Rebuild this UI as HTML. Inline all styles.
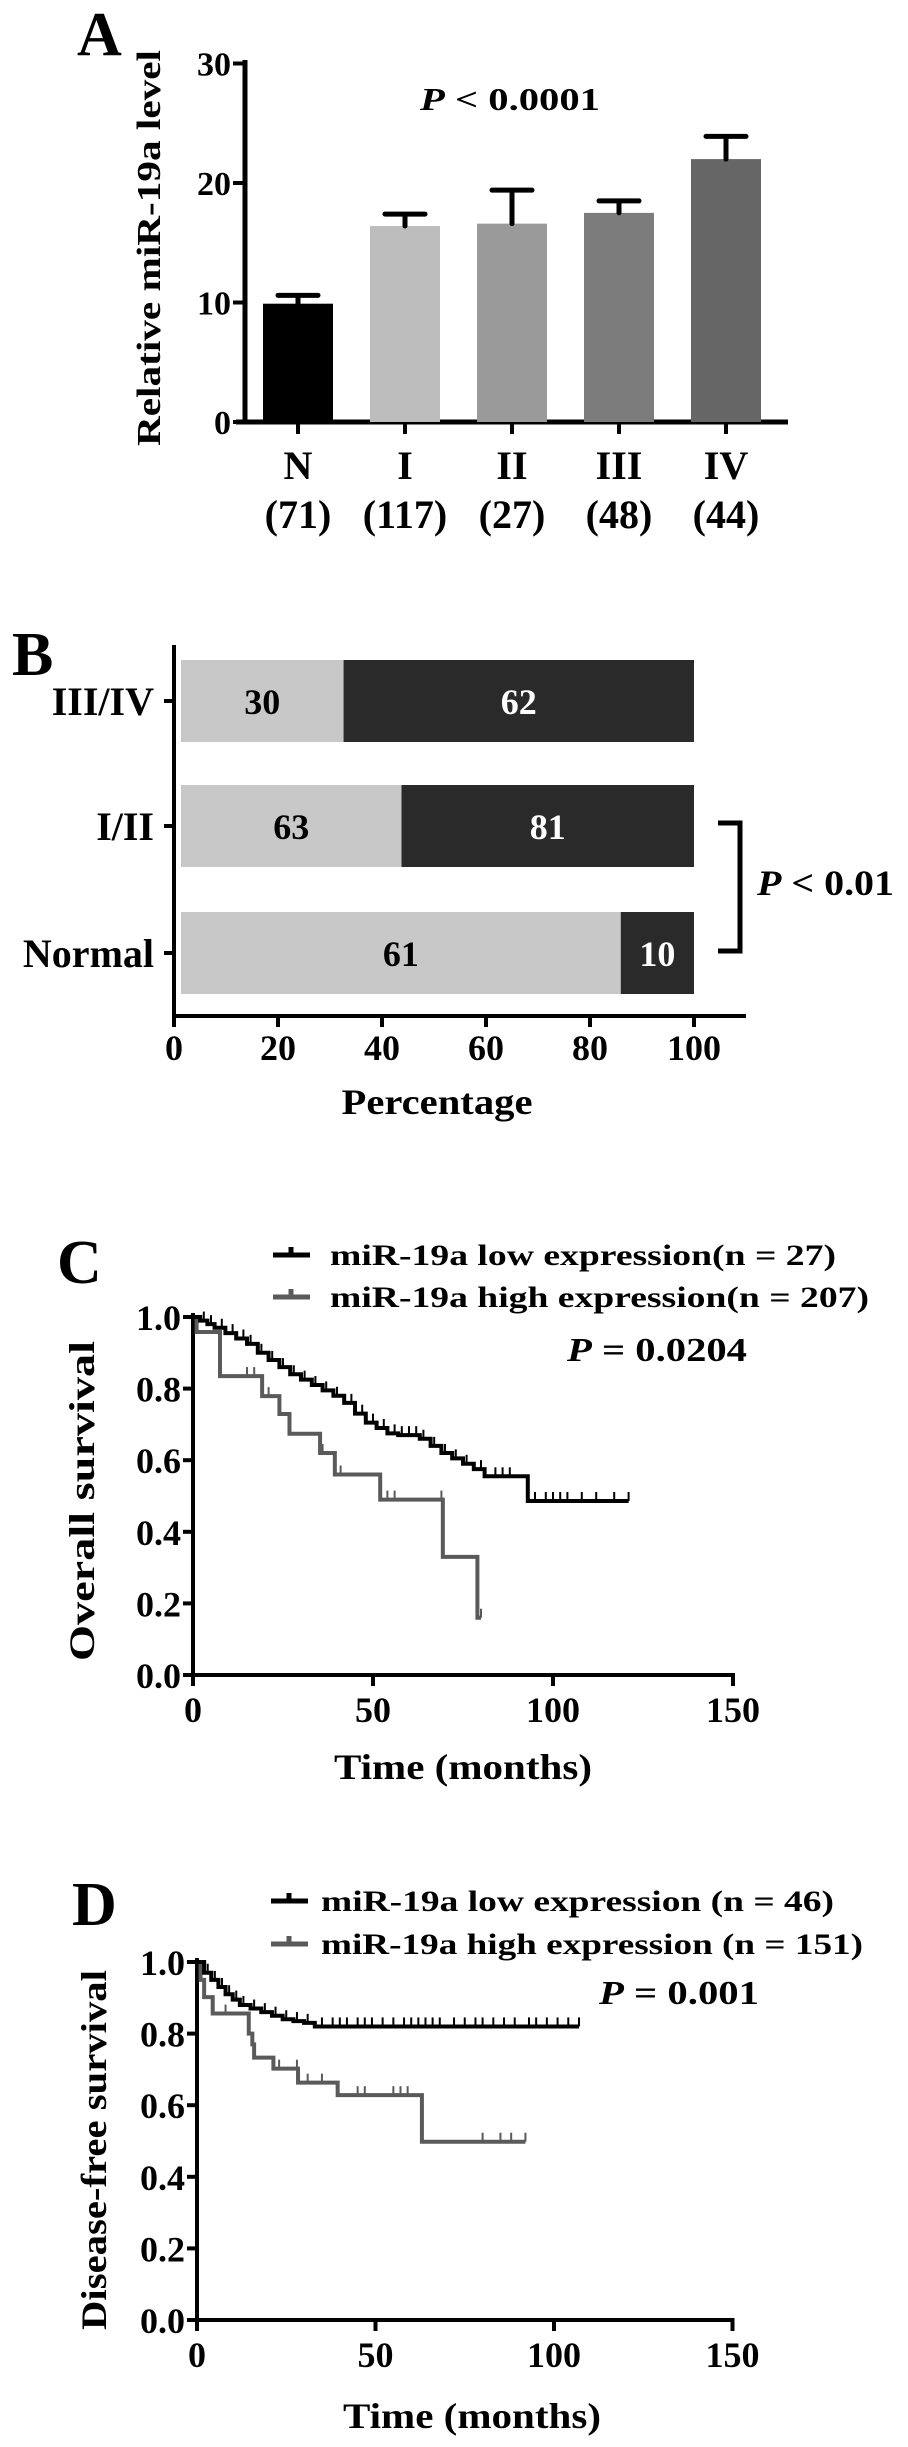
<!DOCTYPE html>
<html><head><meta charset="utf-8"><style>
html,body{margin:0;padding:0;background:#fff}
svg{display:block}
text{font-family:"Liberation Serif",serif;font-weight:bold;fill:#000}
</style></head><body>
<svg id="fig" width="908" height="2447" viewBox="0 0 908 2447">
<text x="77" y="55" font-size="62">A</text>
<text x="102" y="252" font-size="34" text-anchor="middle" transform="rotate(-90 160 248)" textLength="396" lengthAdjust="spacingAndGlyphs" dx="58" dy="-4">Relative miR-19a level</text>
<text x="510" y="110" font-size="32" text-anchor="middle" textLength="180" lengthAdjust="spacingAndGlyphs"><tspan font-style="italic">P</tspan> &lt; 0.0001</text>

<text x="12" y="675" font-size="62">B</text>
<text x="437" y="1114" font-size="36" text-anchor="middle" textLength="191" lengthAdjust="spacingAndGlyphs">Percentage</text>
<text x="757" y="895" font-size="36" textLength="137" lengthAdjust="spacingAndGlyphs"><tspan font-style="italic">P</tspan> &lt; 0.01</text>
<path d="M718 823 H740 V951 H718" fill="none" stroke="#000" stroke-width="5"/>

<text x="57" y="1283" font-size="62">C</text>
<text x="463" y="1779" font-size="36" text-anchor="middle" textLength="258" lengthAdjust="spacingAndGlyphs">Time (months)</text>
<text x="0" y="0" font-size="36" text-anchor="middle" transform="translate(94 1501) rotate(-90)" textLength="320" lengthAdjust="spacingAndGlyphs">Overall survival</text>
<text x="567" y="1361" font-size="34" textLength="180" lengthAdjust="spacingAndGlyphs"><tspan font-style="italic">P</tspan> = 0.0204</text>

<text x="72" y="1925" font-size="62">D</text>
<text x="472" y="2428" font-size="36" text-anchor="middle" textLength="258" lengthAdjust="spacingAndGlyphs">Time (months)</text>
<text x="0" y="0" font-size="36" text-anchor="middle" transform="translate(106 2150) rotate(-90)" textLength="360" lengthAdjust="spacingAndGlyphs">Disease-free survival</text>
<text x="599" y="2004" font-size="34" textLength="160" lengthAdjust="spacingAndGlyphs"><tspan font-style="italic">P</tspan> = 0.001</text>
</svg>
<script>
// ---- Panel A data ----
const aCategories = ["N","I","II","III","IV"];
const aCounts = ["(71)","(117)","(27)","(48)","(44)"];
const aValues = [9.9, 16.4, 16.6, 17.5, 22.0];
const aErrors = [0.7, 1.0, 2.8, 1.0, 1.9];
const aTicks = [0, 10, 20, 30];
// ---- Panel B data ----
const bCategories = ["III/IV","I/II","Normal"];
const bLow = [30, 63, 61];
const bHigh = [62, 81, 10];
const bTicks = [0, 20, 40, 60, 80, 100];
// ---- Panel C data ----
const cLowTimes = [0,2,4,6,9,12,15,18,21,24,27,30,33,36,39,42,45,48,51,54,57,63,66,69,72,75,78,81,93];
const cLowSurv = [1.0,0.99,0.98,0.97,0.955,0.94,0.925,0.9,0.88,0.86,0.84,0.825,0.81,0.795,0.78,0.76,0.73,0.705,0.69,0.675,0.67,0.66,0.64,0.62,0.605,0.59,0.575,0.555,0.486];
const cLowEnd = 121;
const cLowCensor = [3,5,8,11,14,16,19,22,25,28,31,34,37,40,44,47,50,53,56,58,60,62,64,67,70,73,76,80,84,86,88,95,98,100,102,104,108,112,117,121];
const cHighTimes = [0,1,7.5,19.2,24,26.8,35.3,39.4,52,69.4,79];
const cHighSurv = [1.0,0.958,0.835,0.779,0.729,0.674,0.62,0.56,0.49,0.33,0.16];
const cHighEnd = 80;
const cHighCensor = [15,17,21,36,41,54,56,69,79,80];
// ---- Panel D data ----
const dLowTimes = [0,2,4,6,8,10,12,15,18,21,24,27,30,33];
const dLowSurv = [1.0,0.97,0.95,0.93,0.91,0.895,0.88,0.87,0.86,0.85,0.84,0.835,0.83,0.82];
const dLowEnd = 107;
const dLowCensor = [3,5,7,9,11,13,16,19,22,25,28,31,35,38,40,42,45,47,49,52,55,58,60,62,64,66,68,72,75,78,80,83,86,89,93,95,98,101,104,107];
const dHighTimes = [0,1,2,4.4,14.5,15.5,16,21.4,28.3,39.4,63];
const dHighSurv = [1.0,0.95,0.902,0.856,0.8,0.77,0.733,0.702,0.663,0.628,0.498];
const dHighEnd = 92;
const dHighCensor = [8,23,28,31,35,45,47,55,57,59,80,85,88,92];
const kmTicksX = [0, 50, 100, 150];
const kmTicksY = [0.0, 0.2, 0.4, 0.6, 0.8, 1.0];

const svg = document.getElementById('fig');
const NS = 'http://www.w3.org/2000/svg';
function mk(tag, attrs, txt) {
  const e = document.createElementNS(NS, tag);
  for (const k in attrs) e.setAttribute(k, attrs[k]);
  if (txt !== undefined) e.textContent = txt;
  svg.appendChild(e);
  return e;
}
let el;

// ===== Panel A =====
const aY = v => 422 - v * 11.95;
const aX = i => 298 + i * 107;
const aColors = ["#000000","#bdbdbd","#9a9a9a","#7c7c7c","#666666"];
el = mk('line', {x1:245, y1:60, x2:245, y2:424, stroke:'#000', 'stroke-width':5});


el = mk('line', {x1:236, y1:422, x2:788, y2:422, stroke:'#000', 'stroke-width':5});


aTicks.forEach(t => {
  el = mk('line', {x1:233, y1:aY(t), x2:245, y2:aY(t), stroke:'#000', 'stroke-width':4});
  
  
  el = mk('text', {x:231, y:aY(t)+12, 'font-size':34, 'text-anchor':'end'}, String(t));
  
  
});
aCategories.forEach((c, i) => {
  const cx = aX(i);
  el = mk('rect', {x:cx-35, y:aY(aValues[i]), width:70, height:aY(0)-aY(aValues[i]), fill:aColors[i]});
  
  
  el = mk('path', {d:`M${cx} ${aY(aValues[i])} V${aY(aValues[i]+aErrors[i])} M${cx-20} ${aY(aValues[i]+aErrors[i])} H${cx+20}`, stroke:'#000', 'stroke-width':5, fill:'none', 'stroke-linecap':'round'});
  
  
  el = mk('line', {x1:cx, y1:422, x2:cx, y2:434, stroke:'#000', 'stroke-width':4});
  
  
  el = mk('text', {x:cx, y:479, 'font-size':40, 'text-anchor':'middle'}, c);
  
  
  el = mk('text', {x:cx, y:528, 'font-size':40, 'text-anchor':'middle'}, aCounts[i]);
  
  
});

// ===== Panel B =====
const bX = p => 174 + p * 5.2;
const bYc = [701, 826, 953];
el = mk('line', {x1:174, y1:645, x2:174, y2:1018, stroke:'#000', 'stroke-width':4});


el = mk('line', {x1:174, y1:1016, x2:746, y2:1016, stroke:'#000', 'stroke-width':4});


bTicks.forEach(t => {
  el = mk('line', {x1:bX(t), y1:1016, x2:bX(t), y2:1027, stroke:'#000', 'stroke-width':4});
  
  
  el = mk('text', {x:bX(t), y:1060, 'font-size':36, 'text-anchor':'middle'}, String(t));
  
  
});
bCategories.forEach((c, i) => {
  const yc = bYc[i];
  const frac = bLow[i] / (bLow[i] + bHigh[i]) * 100;
  el = mk('rect', {x:181, y:yc-41, width:bX(frac)-181, height:82, fill:'#c8c8c8'});
  
  
  el = mk('rect', {x:bX(frac), y:yc-41, width:bX(100)-bX(frac), height:82, fill:'#2a2a2a'});
  
  
  el = mk('text', {x:(181+bX(frac))/2, y:yc+13, 'font-size':36, 'text-anchor':'middle'}, String(bLow[i]));
  
  
  el = mk('text', {x:(bX(frac)+bX(100))/2, y:yc+13, 'font-size':36, 'text-anchor':'middle', fill:'#fff', style:'fill:#fff'}, String(bHigh[i]));
  
  
  el = mk('line', {x1:164, y1:yc, x2:174, y2:yc, stroke:'#000', 'stroke-width':4});
  
  
  el = mk('text', {x:154, y:yc+14, 'font-size':40, 'text-anchor':'end'}, c);
  
  
});

// ===== KM panels =====
function stepVal(times, surv, t) {
  let v = surv[0];
  for (let i = 0; i < times.length; i++) if (times[i] <= t) v = surv[i];
  return v;
}
function kmPanel(p, ax, lowT, lowS, lowEnd, lowC, highT, highS, highEnd, highC, legLow, legHigh, legEnds) {
  const X = t => ax.x0 + t * ax.kx;
  const Y = s => ax.y0 - s * ax.ky;
  el = mk('line', {x1:ax.x0, y1:Y(1)-4, x2:ax.x0, y2:Y(0)+2, stroke:'#000', 'stroke-width':4});
  
  
  el = mk('line', {x1:ax.x0, y1:Y(0), x2:X(150)+2, y2:Y(0), stroke:'#000', 'stroke-width':4});
  
  
  kmTicksY.forEach(s => {
    el = mk('line', {x1:ax.x0-10, y1:Y(s), x2:ax.x0, y2:Y(s), stroke:'#000', 'stroke-width':4});
    
    
    el = mk('text', {x:ax.x0-12, y:Y(s)+13, 'font-size':36, 'text-anchor':'end'}, s.toFixed(1));
    
    
  });
  kmTicksX.forEach(t => {
    el = mk('line', {x1:X(t), y1:Y(0), x2:X(t), y2:Y(0)+11, stroke:'#000', 'stroke-width':4});
    
    
    el = mk('text', {x:X(t), y:ax.labY, 'font-size':36, 'text-anchor':'middle'}, String(t));
    
    
  });
  const series = [
    {n:'low', T:lowT, S:lowS, E:lowEnd, C:lowC, col:'#000'},
    {n:'high', T:highT, S:highS, E:highEnd, C:highC, col:'#5a5a5a'}
  ];
  series.slice().reverse().forEach(sr => {
    let d = `M${X(0)} ${Y(sr.S[0])}`;
    for (let i = 1; i < sr.T.length; i++) d += ` H${X(sr.T[i])} V${Y(sr.S[i])}`;
    d += ` H${X(sr.E)}`;
    el = mk('path', {d:d, fill:'none', stroke:sr.col, 'stroke-width':4});
    
    
    sr.C.forEach(t => {
      const yy = Y(stepVal(sr.T, sr.S, t));
      el = mk('line', {x1:X(t), y1:yy, x2:X(t), y2:yy-9, stroke:sr.col, 'stroke-width':2});
      
      
    });
  });
  const legs = [[legLow, '#000', ax.legY[0]], [legHigh, '#5a5a5a', ax.legY[1]]];
  legs.forEach((lg, i) => {
    el = mk('path', {d:`M${ax.legX} ${lg[2]} H${ax.legX+37} M${ax.legX+18} ${lg[2]} V${lg[2]-8}`, stroke:lg[1], 'stroke-width':5, fill:'none'});
    
    
    el = mk('text', {x:ax.legTX, y:lg[2]+10, 'font-size':30, textLength:legEnds[i]-ax.legTX, lengthAdjust:'spacingAndGlyphs'}, lg[0]);
    
    
  });
}
kmPanel('panel-c', {x0:193, kx:3.6, y0:1675, ky:358, labY:1722, legX:273, legTX:330, legY:[1255,1297]},
  cLowTimes, cLowSurv, cLowEnd, cLowCensor, cHighTimes, cHighSurv, cHighEnd, cHighCensor,
  'miR-19a low expression(n = 27)', 'miR-19a high expression(n = 207)', [836, 869]);
kmPanel('panel-d', {x0:197, kx:3.57, y0:2320, ky:358, labY:2367, legX:271, legTX:321, legY:[1901,1944]},
  dLowTimes, dLowSurv, dLowEnd, dLowCensor, dHighTimes, dHighSurv, dHighEnd, dHighCensor,
  'miR-19a low expression (n = 46)', 'miR-19a high expression (n = 151)', [834, 863]);
</script>
</body></html>
